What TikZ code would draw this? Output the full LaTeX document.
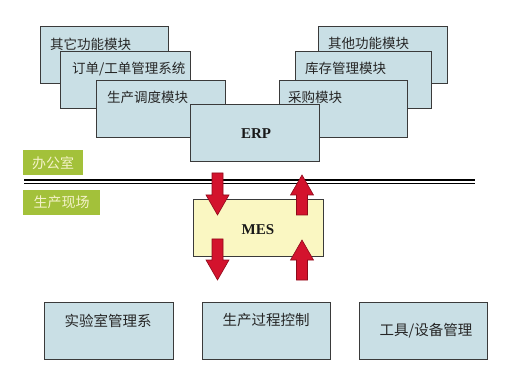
\documentclass[tikz,border=0pt]{standalone}
\usepackage{fontspec}
\newfontfamily\cjk{Noto Sans CJK SC}
\newfontfamily\tnr{Liberation Serif}
\definecolor{boxblue}{HTML}{C9DFE5}
\definecolor{boxline}{HTML}{3A3A3A}
\definecolor{mesfill}{HTML}{FAF7C2}
\definecolor{lblgreen}{HTML}{A3C13A}
\definecolor{lbltext}{HTML}{F4F2C8}
\definecolor{arrred}{HTML}{D3132D}
\definecolor{arrline}{HTML}{8E0A1A}
\begin{document}
\begin{tikzpicture}[x=1pt,y=-1pt,
  modbox/.style={draw=boxline, line width=0.9pt, fill=boxblue, anchor=north west, inner sep=0pt},
  mesbox/.style={draw=boxline, line width=0.9pt, fill=mesfill, anchor=north west, inner sep=0pt},
  modtext/.style={anchor=west, inner sep=0pt, font=\cjk\fontsize{13.5}{14}\selectfont, text=black!85},
  bottext/.style={inner sep=0pt, font=\cjk\fontsize{14.5}{15}\selectfont, text=black!85},
  systext/.style={inner sep=0pt, font=\tnr\bfseries\fontsize{15}{16}\selectfont, text=black!90},
  lbl/.style={fill=lblgreen, anchor=north west, inner sep=0pt, font=\cjk\fontsize{14}{15}\selectfont, text=lbltext},
  bigarrow/.style={fill=arrred, draw=arrline, line width=0.6pt, line join=miter}
]
\useasboundingbox[fill=white] (0,0) rectangle (506,382);

% left stack
\node[modbox, minimum width=128pt, minimum height=57pt] (l1) at (40,26) {};
\node[modtext] (l1t) at (50,44) {其它功能模块};
\node[modbox, minimum width=130pt, minimum height=57pt] (l2) at (60,51) {};
\node[modtext] (l2t) at (72,69) {订单/工单管理系统};
\node[modbox, minimum width=129pt, minimum height=57pt] (l3) at (96,80) {};
\node[modtext] (l3t) at (107,97) {生产调度模块};

% right stack
\node[modbox, minimum width=129pt, minimum height=57pt] (r1) at (318,26) {};
\node[modtext] (r1t) at (328,43) {其他功能模块};
\node[modbox, minimum width=136pt, minimum height=57pt] (r2) at (295,51) {};
\node[modtext] (r2t) at (305,68) {库存管理模块};
\node[modbox, minimum width=128pt, minimum height=57pt] (r3) at (279,80) {};
\node[modtext] (r3t) at (288,97) {采购模块};

% ERP
\node[modbox, minimum width=129pt, minimum height=57pt] (erp) at (190,104) {};
\node[systext] (erpt) at (256,134) {ERP};

% labels
\node[lbl, minimum width=60pt, minimum height=25pt] (office) at (23,150) {办公室};
\node[lbl, minimum width=77pt, minimum height=25pt] (field) at (23,190) {生产现场};

% double line
\coordinate (dl1) at (24,180);
\coordinate (dl2) at (475,180);
\coordinate (dl3) at (24,183.5);
\coordinate (dl4) at (475,183.5);
\draw[line width=1.1pt] (dl1) -- (dl2);
\draw[line width=1.1pt] (dl3) -- (dl4);

% MES
\node[mesbox, minimum width=130pt, minimum height=57pt] (mes) at (193,199) {};
\node[systext] (mest) at (258,230) {MES};

% arrows
\draw[bigarrow] (212,173) -- (223,173) -- (223,195) -- (229,195) -- (217.5,215) -- (206,195) -- (212,195) -- cycle;
\draw[bigarrow] (212,239) -- (223,239) -- (223,260) -- (229,260) -- (217.5,280) -- (206,260) -- (212,260) -- cycle;
\draw[bigarrow] (296.5,215) -- (307.5,215) -- (307.5,195) -- (313.5,195) -- (302,175) -- (290.5,195) -- (296.5,195) -- cycle;
\draw[bigarrow] (296.5,280) -- (307.5,280) -- (307.5,260) -- (313.5,260) -- (302,240) -- (290.5,260) -- (296.5,260) -- cycle;

% bottom boxes
\node[modbox, minimum width=129pt, minimum height=57pt] (b1) at (44,302) {};
\node[bottext] (b1t) at (108,321) {实验室管理系};
\node[modbox, minimum width=128pt, minimum height=57pt] (b2) at (202,302) {};
\node[bottext] (b2t) at (266,320) {生产过程控制};
\node[modbox, minimum width=128pt, minimum height=57pt] (b3) at (359,302) {};
\node[bottext] (b3t) at (426,331) {工具/设备管理};
\end{tikzpicture}
\end{document}
